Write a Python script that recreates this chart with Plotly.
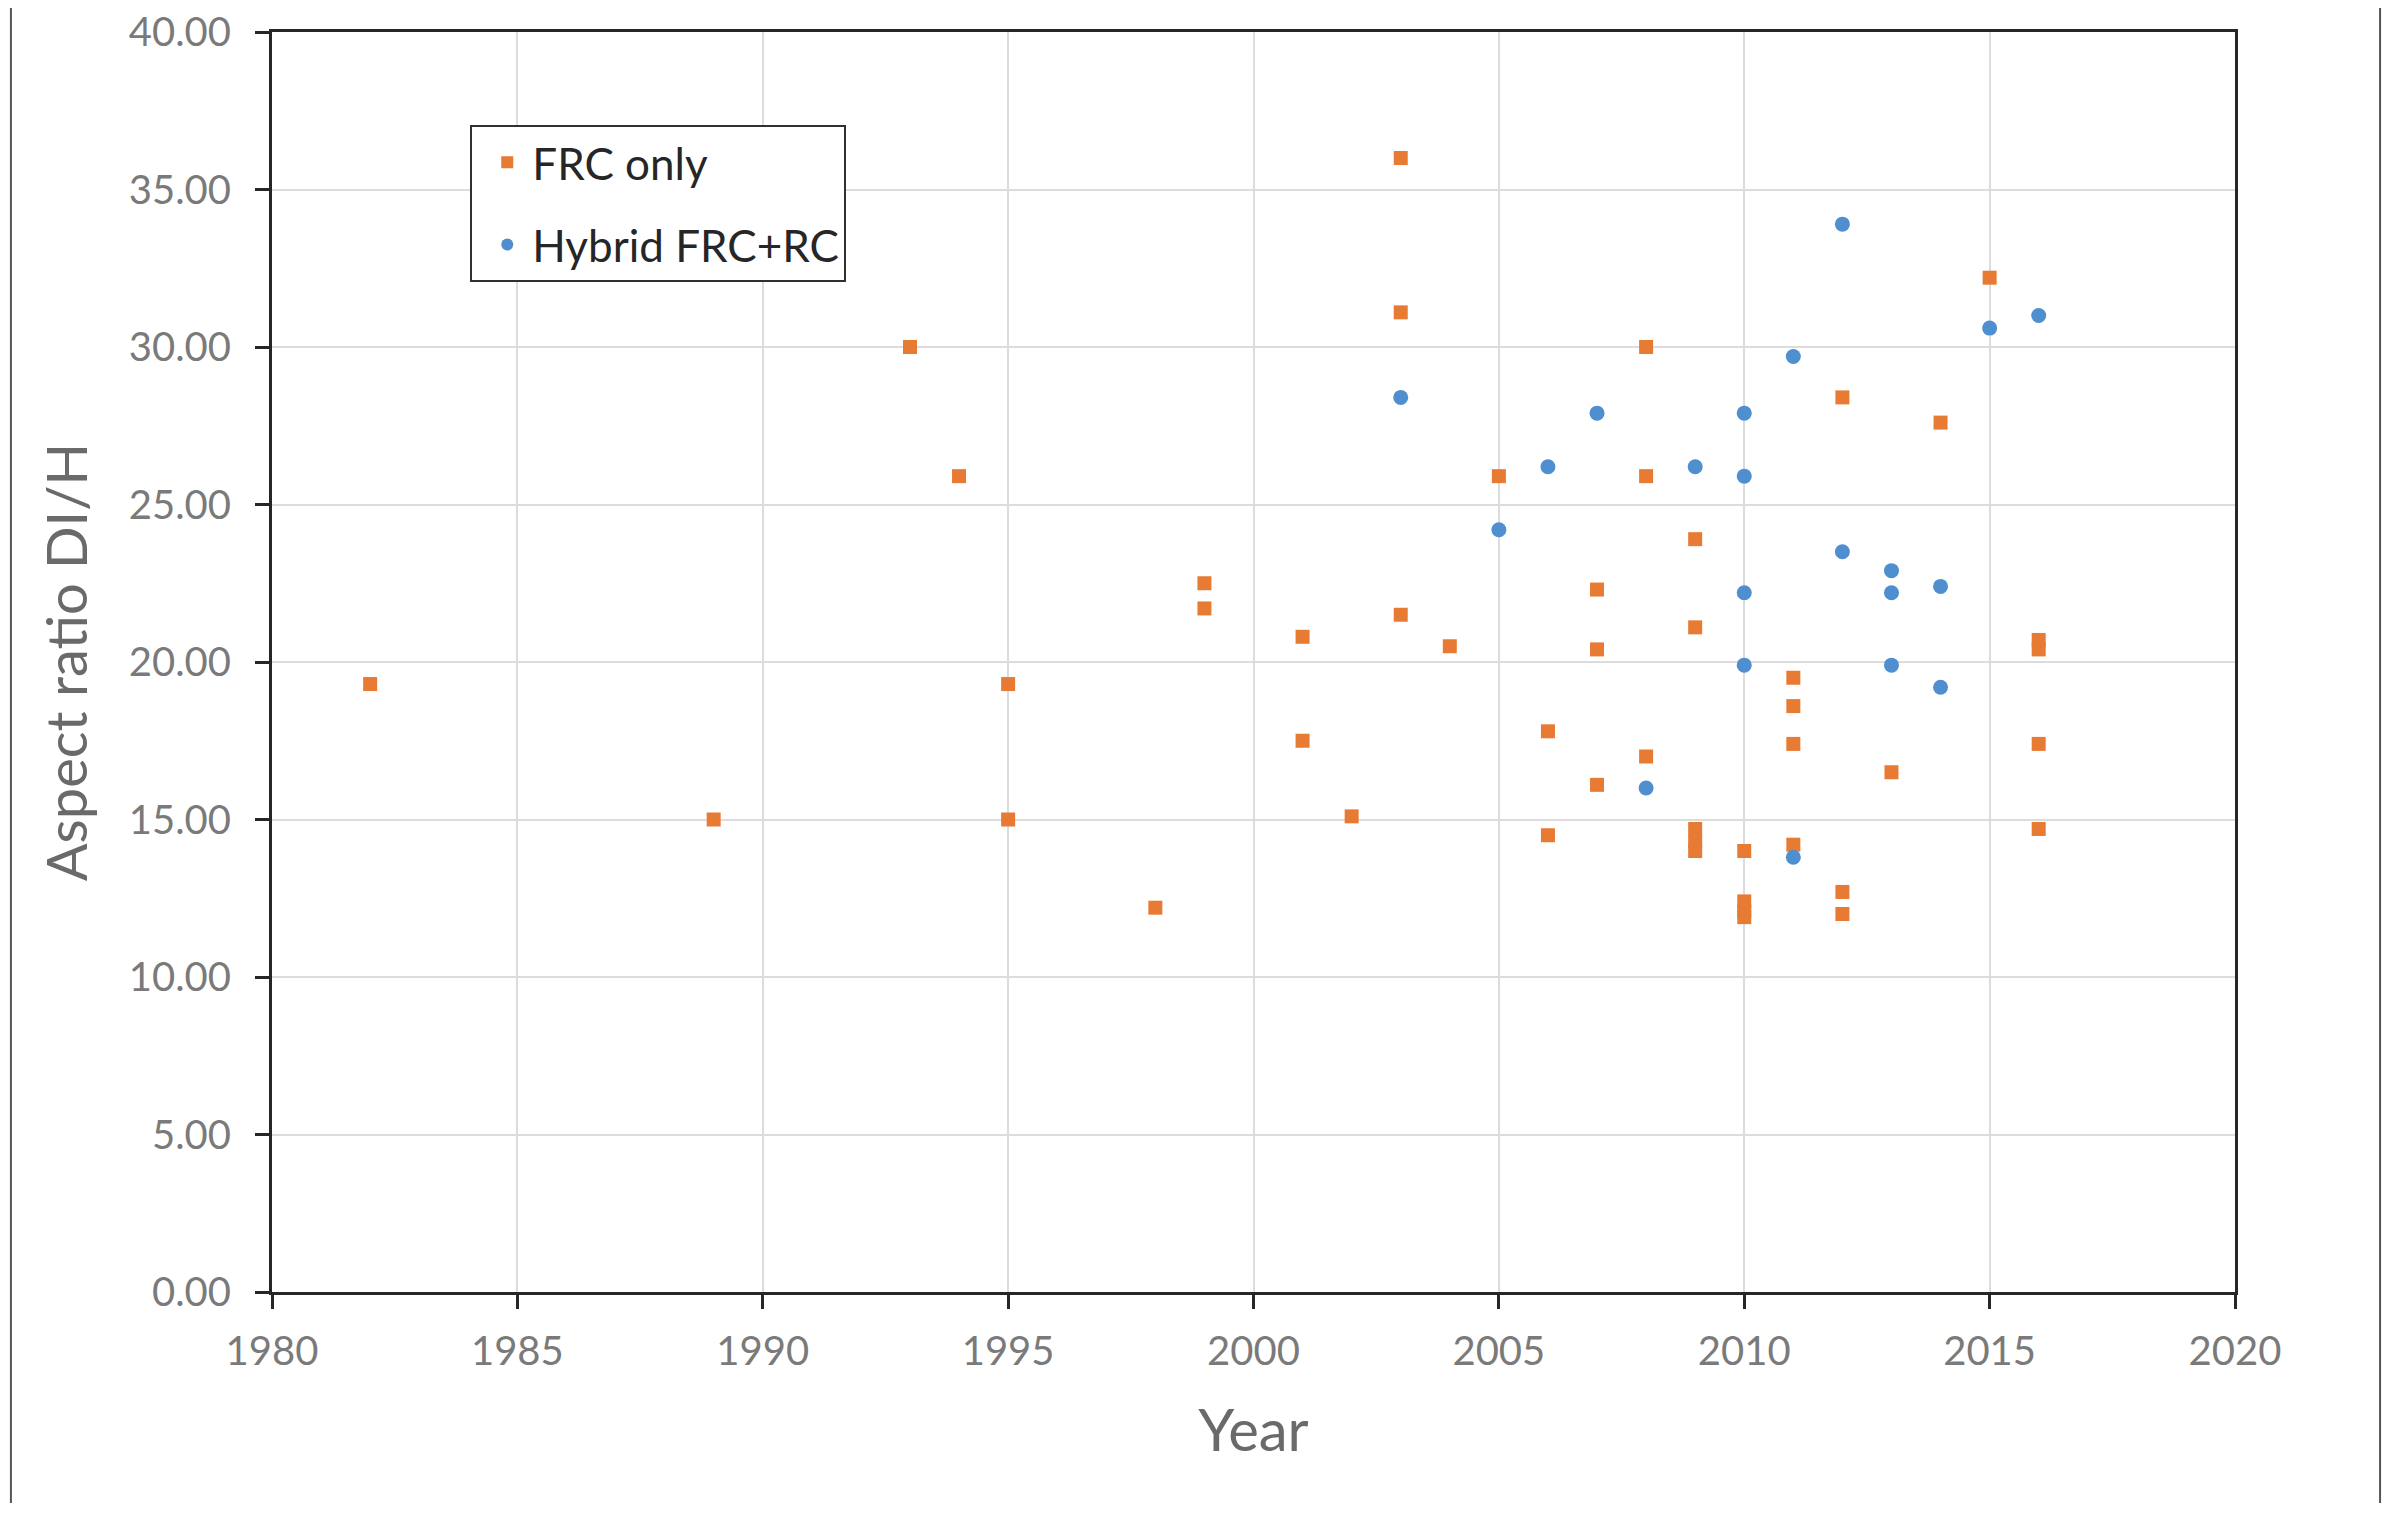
import plotly.graph_objects as go

# FRC only (orange squares)
frc_year = [1982, 1989, 1993, 1994, 1995, 1995, 1998, 1999, 1999, 2001, 2001, 2002,
            2003, 2003, 2003, 2004, 2005, 2006, 2006, 2007, 2007, 2007,
            2008, 2008, 2008, 2009, 2009, 2009, 2009, 2009,
            2010, 2010, 2010, 2010, 2011, 2011, 2011, 2011,
            2012, 2012, 2012, 2013, 2014, 2015, 2016, 2016, 2016, 2016]
frc_ratio = [19.3, 15.0, 30.0, 25.9, 19.3, 15.0, 12.2, 22.5, 21.7, 20.8, 17.5, 15.1,
             36.0, 31.1, 21.5, 20.5, 25.9, 17.8, 14.5, 22.3, 20.4, 16.1,
             30.0, 25.9, 17.0, 23.9, 21.1, 14.7, 14.3, 14.0,
             14.0, 12.4, 12.1, 11.9, 19.5, 18.6, 17.4, 14.2,
             28.4, 12.7, 12.0, 16.5, 27.6, 32.2, 20.7, 20.4, 17.4, 14.7]

# Hybrid FRC+RC (blue circles)
hyb_year = [2003, 2005, 2006, 2007, 2008, 2009, 2010, 2010, 2010, 2010,
            2011, 2011, 2012, 2012, 2013, 2013, 2013, 2014, 2014, 2015, 2016]
hyb_ratio = [28.4, 24.2, 26.2, 27.9, 16.0, 26.2, 27.9, 25.9, 22.2, 19.9,
             29.7, 13.8, 33.9, 23.5, 22.9, 22.2, 19.9, 22.4, 19.2, 30.6, 31.0]

x_ticks = [1980, 1985, 1990, 1995, 2000, 2005, 2010, 2015, 2020]
y_ticks = [0, 5, 10, 15, 20, 25, 30, 35, 40]

FONT = "Lato"
ORANGE = "#E87B34"
BLUE = "#4F8FCF"

fig = go.Figure()
fig.add_trace(go.Scatter(x=frc_year, y=frc_ratio, mode="markers", name="FRC only",
                         legendgroup="a",
                         marker=dict(symbol="square", size=14, color=ORANGE)))
fig.add_trace(go.Scatter(x=hyb_year, y=hyb_ratio, mode="markers", name="Hybrid FRC+RC",
                         legendgroup="b",
                         marker=dict(symbol="circle", size=15, color=BLUE)))

axis_common = dict(showgrid=True, gridcolor="#dcdcdc", gridwidth=2,
                   showline=True, linecolor="#262626", linewidth=3, mirror=True,
                   ticks="outside", ticklen=14, tickwidth=3, tickcolor="#262626",
                   zeroline=False, ticklabeloverflow="allow", automargin=False,
                   tickfont=dict(family=FONT, size=40, color="#7a7a7a"))

fig.update_xaxes(range=[1980, 2020], tickvals=x_ticks,
                 ticktext=[str(v) for v in x_ticks],
                 ticklabelstandoff=8,
                 title=dict(text="Year", font=dict(family=FONT, size=58, color="#6a6a6a"),
                            standoff=38),
                 **axis_common)
fig.update_yaxes(range=[0, 40], tickvals=y_ticks,
                 ticktext=[f"{v:.2f}" for v in y_ticks],
                 ticklabelstandoff=16,
                 title=dict(text="Aspect ratio DI/H", font=dict(family=FONT, size=56, color="#6a6a6a"),
                            standoff=24),
                 **axis_common)

fig.update_layout(
    width=2385, height=1495,
    margin=dict(l=264, r=158, t=24, b=211),
    paper_bgcolor="white", plot_bgcolor="white",
    showlegend=True,
    legend=dict(x=0.101, y=0.926, xanchor="left", yanchor="top",
                bgcolor="white", bordercolor="#303030", borderwidth=2,
                font=dict(family=FONT, size=44, color="#262626"),
                tracegroupgap=22, itemsizing="constant", indentation=10, itemwidth=40),
    shapes=[
        dict(type="rect", xref="paper", yref="paper", x0=-0.133, x1=1.0739, y0=-0.3, y1=1.1,
             line=dict(color="#555555", width=2), fillcolor="rgba(0,0,0,0)", layer="below"),
    ],
)

fig.write_html("out.html")
